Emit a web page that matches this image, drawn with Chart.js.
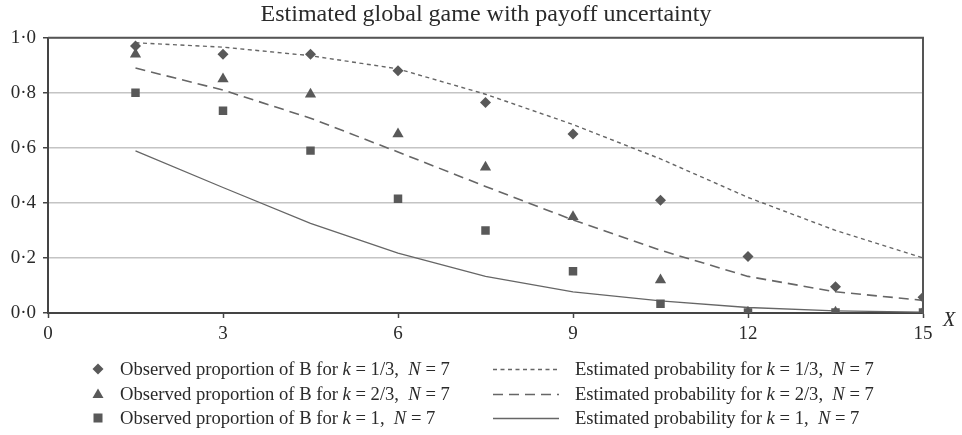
<!DOCTYPE html>
<html>
<head>
<meta charset="utf-8">
<script src="https://cdn.jsdelivr.net/npm/chart.js@4"></script>
<style>
  body { margin: 0; background: #fff; }
  #caja { position: relative; width: 962px; height: 435px; }
  #leyenda { position: absolute; left: 0; top: 357px; width: 962px; font-family: "Liberation Serif", serif; font-size: 18.6px; color: #2a2a2a; }
  .fila { position: absolute; height: 24px; line-height: 24px; white-space: pre; }
  .fila svg { position: absolute; top: 0; }
  .fila span { position: absolute; top: 0; }
</style>
</head>
<body>
<div id="caja">
  <canvas id="grafico" width="962" height="435"></canvas>
  <div id="leyenda"></div>
</div>
<script>
// Valores de X (eje horizontal)
const valoresX = [1.5, 3, 4.5, 6, 7.5, 9, 10.5, 12, 13.5, 15];

// Proporciones observadas de B
const observadoK13 = [0.97, 0.94, 0.94, 0.88, 0.765, 0.65, 0.41, 0.205, 0.095, 0.057];
const observadoK23 = [0.94, 0.85, 0.795, 0.65, 0.53, 0.35, 0.12, 0.003, 0.003, 0.003];
const observadoK1 = [0.80, 0.735, 0.59, 0.415, 0.30, 0.152, 0.034, 0.002, 0.002, 0.002];

// Probabilidades estimadas
const estimadoK13 = [0.982, 0.966, 0.935, 0.887, 0.795, 0.685, 0.56, 0.42, 0.30, 0.20];
const estimadoK23 = [0.89, 0.81, 0.708, 0.585, 0.46, 0.338, 0.228, 0.133, 0.077, 0.046];
const estimadoK1 = [0.589, 0.456, 0.326, 0.218, 0.133, 0.077, 0.044, 0.02, 0.008, 0.003];

const ticksX = [0, 3, 6, 9, 12, 15];
const ticksY = [0, 0.2, 0.4, 0.6, 0.8, 1.0];

const etiquetasObs = ["Observed proportion of B for <i>k</i> = 1/3,  <i>N</i> = 7",
                      "Observed proportion of B for <i>k</i> = 2/3,  <i>N</i> = 7",
                      "Observed proportion of B for <i>k</i> = 1,  <i>N</i> = 7"];
const etiquetasEst = ["Estimated probability for <i>k</i> = 1/3,  <i>N</i> = 7",
                      "Estimated probability for <i>k</i> = 2/3,  <i>N</i> = 7",
                      "Estimated probability for <i>k</i> = 1,  <i>N</i> = 7"];

const colorMarca = "#595959";
const colorLinea = "#666666";
const fuente = "'Liberation Serif', 'Times New Roman', serif";

function puntos(ys) {
  return valoresX.map((x, i) => ({ x: x, y: ys[i] }));
}

function serieObservada(ys, estilo, radio) {
  return {
    data: puntos(ys),
    showLine: false,
    pointStyle: estilo,
    pointRadius: radio,
    pointBackgroundColor: colorMarca,
    pointBorderColor: colorMarca,
    pointBorderWidth: 0,
  };
}

function serieEstimada(ys, guiones, ancho) {
  return {
    data: puntos(ys),
    showLine: true,
    borderColor: colorLinea,
    borderWidth: ancho,
    borderDash: guiones,
    pointRadius: 0,
    tension: 0,
  };
}

const series = [
  serieObservada(observadoK13, "rectRot", 5.5),
  serieObservada(observadoK23, "triangle", 6.5),
  serieObservada(observadoK1, "rect", 6),
  serieEstimada(estimadoK13, [4, 3.5], 1.4),
  serieEstimada(estimadoK23, [10, 6], 1.6),
  serieEstimada(estimadoK1, [], 1.3),
];

// Marco superior y etiqueta "X"
const marco = {
  id: "marco",
  afterDraw(chart) {
    const c = chart.ctx;
    const a = chart.chartArea;
    c.save();
    c.strokeStyle = "#555";
    c.lineWidth = 2;
    c.beginPath();
    c.moveTo(a.left, a.top);
    c.lineTo(a.right + 1, a.top);
    c.stroke();
    c.font = "italic 20px " + fuente;
    c.fillStyle = "#2a2a2a";
    c.textBaseline = "middle";
    c.fillText("X", a.right + 20, a.bottom + 8);
    c.restore();
  },
};

const ctx = document.getElementById("grafico").getContext("2d");
new Chart(ctx, {
  type: "scatter",
  data: { datasets: series },
  plugins: [marco],
  options: {
    responsive: false,
    animation: false,
    layout: { padding: { left: 10, right: 0, top: 0, bottom: 92 } },
    plugins: {
      legend: { display: false },
      tooltip: { enabled: false },
      title: {
        display: true,
        text: "Estimated global game with payoff uncertainty",
        color: "#2a2a2a",
        font: { family: fuente, size: 24, weight: "normal", lineHeight: 1.2 },
        padding: { top: 0, bottom: 9 },
      },
    },
    scales: {
      x: {
        type: "linear",
        min: 0,
        max: 15,
        afterBuildTicks: (s) => { s.ticks = ticksX.map((v) => ({ value: v })); },
        afterFit: (s) => { s.height = 30; },
        border: { color: "#444", width: 2 },
        grid: { drawOnChartArea: false, drawTicks: true, tickLength: 5, tickColor: "#444", tickWidth: 1.5 },
        ticks: { color: "#2a2a2a", padding: 5, font: { family: fuente, size: 19 } },
      },
      y: {
        min: 0,
        max: 1,
        afterBuildTicks: (s) => { s.ticks = ticksY.map((v) => ({ value: v })); },
        afterFit: (s) => { s.width = 38; },
        border: { color: "#444", width: 2 },
        grid: { color: "#c4c4c4", lineWidth: 1.5, tickColor: "#444", tickLength: 5, tickWidth: 1.5 },
        ticks: {
          color: "#2a2a2a",
          padding: 7,
          font: { family: fuente, size: 19 },
          callback: (v) => v.toFixed(1).replace(".", "·"),
        },
      },
      y2: {
        position: "right",
        min: 0,
        max: 1,
        afterFit: (s) => { s.width = 39; },
        border: { color: "#555", width: 2 },
        grid: { drawOnChartArea: false, drawTicks: false },
        ticks: { display: false },
      },
    },
  },
});

// Leyenda en dos columnas
const leyenda = document.getElementById("leyenda");
function muestraMarca(s) {
  const r = 5.5;
  let forma = "";
  if (s.pointStyle === "rectRot") forma = `<polygon points="10,${12 - r} ${10 + r},12 10,${12 + r} ${10 - r},12" fill="${colorMarca}"/>`;
  if (s.pointStyle === "triangle") forma = `<polygon points="10,6.5 15.5,16 4.5,16" fill="${colorMarca}"/>`;
  if (s.pointStyle === "rect") forma = `<rect x="5.5" y="7.5" width="9" height="9" fill="${colorMarca}"/>`;
  return `<svg width="20" height="24">${forma}</svg>`;
}
function muestraLinea(s) {
  const d = s.borderDash.length ? s.borderDash.join(" ") : "none";
  return `<svg width="68" height="24"><line x1="1" y1="12.5" x2="67" y2="12.5" stroke="${colorLinea}" stroke-width="${s.borderWidth}" stroke-dasharray="${d}"/></svg>`;
}
for (let i = 0; i < 3; i++) {
  const f1 = document.createElement("div");
  f1.className = "fila";
  f1.style.top = (i * 24.5) + "px";
  f1.style.left = "88px";
  f1.innerHTML = muestraMarca(series[i]) + `<span style="left:32px">${etiquetasObs[i]}</span>`;
  leyenda.appendChild(f1);

  const f2 = document.createElement("div");
  f2.className = "fila";
  f2.style.top = (i * 24.5) + "px";
  f2.style.left = "492px";
  f2.innerHTML = muestraLinea(series[i + 3]) + `<span style="left:83px">${etiquetasEst[i]}</span>`;
  leyenda.appendChild(f2);
}
</script>
</body>
</html>
